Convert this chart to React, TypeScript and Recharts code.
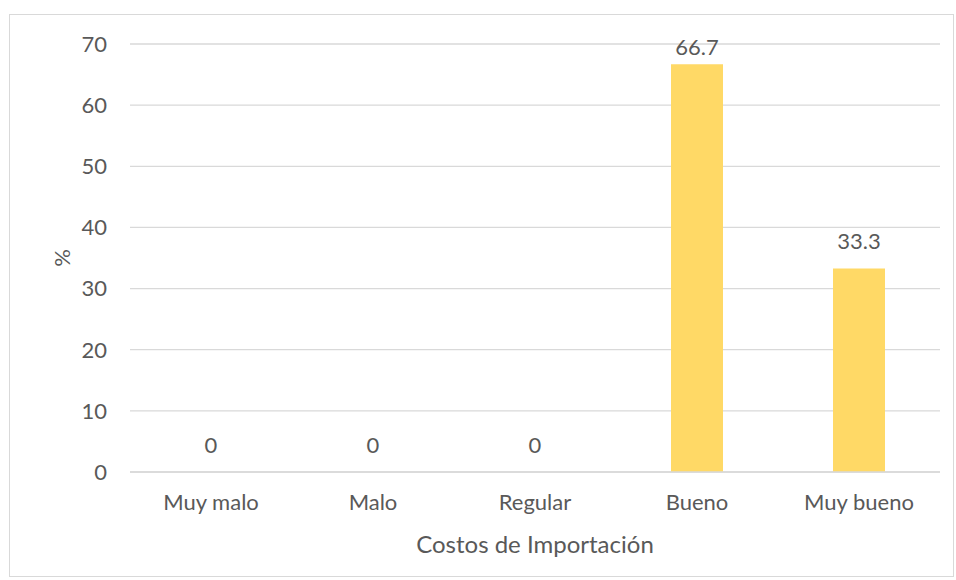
import React from 'react';
import { ComposedChart, Bar, Line, XAxis, YAxis, CartesianGrid, LabelList, Label } from 'recharts';

const categories = ['Muy malo', 'Malo', 'Regular', 'Bueno', 'Muy bueno'];
const values = [0, 0, 0, 66.7, 33.3];
const yTicks = [0, 10, 20, 30, 40, 50, 60, 70];

const data = categories.map((c, i) => ({ name: c, value: values[i] }));

const FONT = 'Lato, "Open Sans", sans-serif';
const TXT = '#595959';
const FS = 22;

const ValueLabel = (props: any) => {
  const { x, y, value } = props;
  const baseline = Math.max(y - 19, 55);
  return (
    <text x={x} y={baseline} textAnchor="middle" fill={TXT} fontSize={FS} fontFamily={FONT}>
      {value}
    </text>
  );
};

export default function App() {
  return (
    <div style={{ position: 'absolute', left: 0, top: 0, width: 956, height: 580, background: '#fff', fontFamily: FONT }}>
      <div style={{ position: 'absolute', left: 9, top: 14, width: 945, height: 563, border: '1px solid #d9d9d9', boxSizing: 'border-box' }} />
      <div style={{ position: 'absolute', left: 0, top: 0 }}>
        <ComposedChart width={956} height={580} data={data} margin={{ top: 44, right: 16, bottom: 0, left: 0 }} barCategoryGap={55}>
          <CartesianGrid vertical={false} stroke="#d9d9d9" strokeWidth={1.3} />
          <XAxis dataKey="name" height={108} axisLine={{ stroke: '#d9d9d9', strokeWidth: 1.3 }} tickLine={false} tickSize={0} tickMargin={22}
            tick={{ fill: TXT, fontSize: FS, fontFamily: FONT }} interval={0}>
            <Label value="Costos de Importación" position="insideBottom" offset={27} style={{ fill: TXT, fontSize: 24, fontFamily: FONT }} />
          </XAxis>
          <YAxis width={130} domain={[0, 70]} ticks={yTicks} axisLine={false} tickLine={false} tickSize={0} tickMargin={23}
            tick={{ fill: TXT, fontSize: FS, fontFamily: FONT }} interval={0}>
            <Label value="%" angle={-90} position="insideLeft" offset={62} style={{ fill: TXT, fontSize: FS, fontFamily: FONT, textAnchor: 'middle' }} />
          </YAxis>
          <Bar dataKey="value" fill="#FFD966" isAnimationActive={false} />
          <Line dataKey="value" stroke="none" dot={false} activeDot={false} legendType="none" isAnimationActive={false}>
            <LabelList dataKey="value" content={ValueLabel} />
          </Line>
        </ComposedChart>
      </div>
    </div>
  );
}
